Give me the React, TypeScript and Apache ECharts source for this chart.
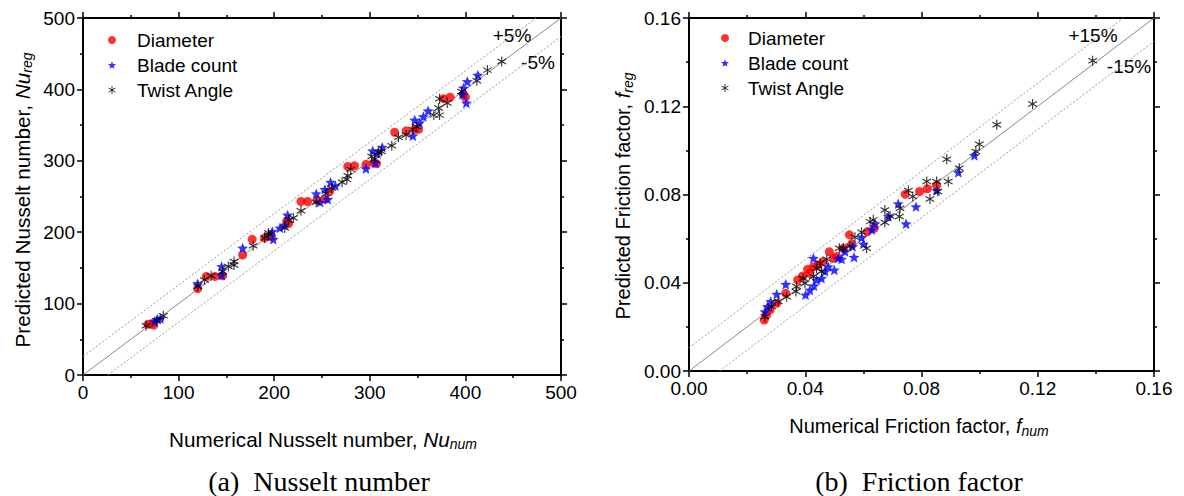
import React, { useEffect, useRef } from "react";
import * as echarts from "echarts";

// ---------- data ----------
const seriesNames = ["Diameter", "Blade count", "Twist Angle"];

// (a) Nusselt number: [numerical, predicted]
const nuDiameter = [
  [68, 71], [72, 72], [74, 70], [120, 121], [129, 138], [138, 138], [146, 139], [167, 168],
  [177, 190], [190, 192], [197, 194], [213, 215], [215, 212], [228, 243], [235, 243], [245, 245],
  [253, 246], [258, 257], [277, 292], [284, 293], [296, 295], [304, 297], [307, 296], [326, 340],
  [338, 342], [347, 344], [351, 344], [377, 387], [384, 389], [398, 393], [400, 389],
];
const nuBlade = [
  [75, 75], [78, 78], [81, 79], [120, 128], [145, 152], [145, 140], [167, 178], [199, 190],
  [198, 201], [206, 206], [214, 224], [211, 210], [244, 254], [248, 242], [253, 260], [256, 246],
  [259, 270], [264, 265], [296, 289], [303, 314], [306, 297], [308, 310], [313, 319], [345, 335],
  [347, 357], [352, 353], [356, 362], [361, 370], [397, 393], [398, 402], [402, 411], [401, 381],
  [413, 420],
];
const nuTwist = [
  [66, 69], [77, 76], [84, 83], [120, 124], [127, 133], [134, 139], [146, 145], [152, 152],
  [158, 159], [158, 154], [178, 181], [190, 192], [194, 196], [194, 199], [211, 206], [215, 217],
  [220, 220], [228, 230], [244, 242], [254, 254], [260, 262], [271, 270], [276, 274], [277, 279],
  [280, 288], [302, 306], [305, 302], [309, 312], [312, 313], [323, 321], [330, 333], [338, 336],
  [345, 344], [349, 348], [367, 364], [373, 364], [372, 374], [373, 387], [381, 381], [396, 397],
  [412, 412], [423, 427], [438, 439],
];
const nuParity = [[0, 0], [500, 500]];
const nuUpper = [[0, 26], [474, 500]];
const nuLower = [[26, 0], [500, 474]];

// (b) Friction factor: [numerical, predicted]
const fDiameter = [
  [0.0259, 0.0231], [0.0267, 0.0254], [0.0279, 0.0277], [0.0302, 0.0307], [0.0333, 0.0352],
  [0.0374, 0.0413], [0.0391, 0.0431], [0.0408, 0.0461], [0.0416, 0.0443], [0.0428, 0.0473],
  [0.0445, 0.0481], [0.0462, 0.0496], [0.0483, 0.0541], [0.0497, 0.0511], [0.0508, 0.0519],
  [0.0531, 0.0556], [0.0552, 0.0617], [0.056, 0.0576], [0.0614, 0.0632], [0.0637, 0.0647],
  [0.0744, 0.0801], [0.0793, 0.0814], [0.082, 0.0826], [0.0852, 0.0841],
];
const fBlade = [
  [0.0261, 0.0269], [0.027, 0.0292], [0.0281, 0.0315], [0.0302, 0.0348], [0.0333, 0.0393],
  [0.0401, 0.0345], [0.0416, 0.0367], [0.0428, 0.0511], [0.043, 0.0386], [0.0439, 0.0413],
  [0.0456, 0.042], [0.0468, 0.0451], [0.0479, 0.0473], [0.05, 0.0458], [0.0514, 0.0511],
  [0.0525, 0.0507], [0.0537, 0.0541], [0.0563, 0.0564], [0.0568, 0.0516], [0.0594, 0.0606],
  [0.06, 0.0576], [0.0629, 0.064], [0.064, 0.0667], [0.0686, 0.07], [0.072, 0.0758],
  [0.0747, 0.0667], [0.0781, 0.0745], [0.0852, 0.0818], [0.0927, 0.09], [0.0982, 0.0977],
];
const fTwist = [
  [0.0261, 0.0246], [0.0284, 0.0292], [0.0307, 0.0315], [0.0336, 0.0337], [0.0368, 0.036],
  [0.037, 0.0383], [0.0393, 0.042], [0.0399, 0.0398], [0.0428, 0.0428], [0.0439, 0.0466],
  [0.0456, 0.0451], [0.0451, 0.0488], [0.0474, 0.0507], [0.0517, 0.0556], [0.0531, 0.0556],
  [0.0554, 0.0567], [0.0571, 0.0606], [0.0594, 0.0629], [0.0611, 0.0556], [0.0623, 0.0677],
  [0.0634, 0.0685], [0.0674, 0.073], [0.0674, 0.0673], [0.0692, 0.0703], [0.0724, 0.07],
  [0.0726, 0.0738], [0.0755, 0.0818], [0.077, 0.0791], [0.0818, 0.0859], [0.0829, 0.078],
  [0.0852, 0.0859], [0.0856, 0.0814], [0.0887, 0.096], [0.0892, 0.0859], [0.093, 0.0919],
  [0.0987, 0.0995], [0.0999, 0.1028], [0.1059, 0.1116], [0.1182, 0.121], [0.1389, 0.1406],
];
const fParity = [[0, 0], [0.16, 0.16]];
const fUpper = [[0, 0.0105], [0.1495, 0.16]];
const fLower = [[0.0105, 0], [0.16, 0.1495]];

const nuTicks = { min: 0, max: 500, interval: 100 };
const fTicks = { min: 0, max: 0.16, interval: 0.04 };

// ---------- styling ----------
const SANS = "Liberation Sans";
const SERIF = "Liberation Serif";
const STAR =
  "path://M50 0 L62.93 32.2 L97.55 34.55 L70.92 56.8 L79.39 90.45 L50 72 L20.61 90.45 L29.08 56.8 L2.45 34.55 L37.07 32.2 Z";
const AST = "path://M50 0 L50 100 M6.7 25 L93.3 75 M6.7 75 L93.3 25";
const TICK_FONT = 19;
const SUB_FONT = 14;

const markerStyles = [
  { symbol: "circle", size: 9, itemStyle: { color: "#ff0000" } },
  { symbol: STAR, size: 11, itemStyle: { color: "#0000ff" } },
  { symbol: AST, size: 10, itemStyle: { color: "#000", borderColor: "#000", borderWidth: 1.1 } },
];
const legendIcons = [
  { icon: "circle", itemStyle: { color: "#ff0000" } },
  { icon: STAR, itemStyle: { color: "#0000ff" } },
  { icon: AST, itemStyle: { color: "#000", borderColor: "#000", borderWidth: 1 } },
];

function makeAxis(dim: "x" | "y", grid: number, ticks: any, main: boolean, fmt?: (v: number) => string) {
  return {
    type: "value",
    gridIndex: grid,
    min: ticks.min,
    max: ticks.max,
    interval: ticks.interval,
    position: dim === "x" ? (main ? "bottom" : "top") : main ? "left" : "right",
    axisLine: { show: true, onZero: false, lineStyle: { color: "#000", width: 2 } },
    axisTick: { show: true, inside: false, length: 6, lineStyle: { color: "#000", width: 1.5 } },
    minorTick: { show: true, splitNumber: 2, length: 3, lineStyle: { color: "#000", width: 1.5 } },
    splitLine: { show: false },
    minorSplitLine: { show: false },
    axisLabel: {
      show: main,
      color: "#000",
      fontSize: TICK_FONT,
      fontFamily: SANS,
      margin: 8,
      formatter: fmt,
    },
  };
}

function scatterSeries(data: number[][][], xi: number, yi: number) {
  return data.map((d, k) => ({
    type: "scatter",
    name: seriesNames[k],
    xAxisIndex: xi,
    yAxisIndex: yi,
    data: d,
    symbol: markerStyles[k].symbol,
    symbolSize: markerStyles[k].size,
    symbolKeepAspect: true,
    itemStyle: markerStyles[k].itemStyle,
    z: 5 + k,
  }));
}

function refLine(data: number[][], xi: number, yi: number, dotted: boolean) {
  return {
    type: "line",
    xAxisIndex: xi,
    yAxisIndex: yi,
    data,
    symbol: "none",
    silent: true,
    lineStyle: dotted
      ? { color: "#999", width: 1, type: [2, 2] }
      : { color: "#888", width: 1, type: "solid" },
    z: 2,
  };
}

let measureCtx: CanvasRenderingContext2D | null = null;
function measure(text: string, size: number, italic: boolean) {
  if (!measureCtx) measureCtx = document.createElement("canvas").getContext("2d");
  if (!measureCtx) return text.length * size * 0.5;
  measureCtx.font = `${italic ? "italic " : ""}${size}px "${SANS}"`;
  return measureCtx.measureText(text).width;
}

function axisTitle(
  normal: string,
  ital: string,
  sub: string,
  cx: number,
  cy: number,
  rotated: boolean,
  size: number
) {
  const w1 = measure(normal, size, false);
  const w2 = measure(ital, size, true);
  const w3 = measure(sub, SUB_FONT, true);
  const start = -(w1 + w2 + w3) / 2;
  const base = { fontFamily: SANS, fill: "#000", align: "left", verticalAlign: "middle" };
  return {
    type: "group",
    x: cx,
    y: cy,
    rotation: rotated ? Math.PI / 2 : 0,
    children: [
      { type: "text", x: start, y: 0, style: { ...base, text: normal, fontSize: size } },
      { type: "text", x: start + w1, y: 0, style: { ...base, text: ital, fontSize: size, fontStyle: "italic" } },
      { type: "text", x: start + w1 + w2, y: 5, style: { ...base, text: sub, fontSize: SUB_FONT, fontStyle: "italic" } },
    ],
  };
}

function plainText(text: string, x: number, y: number, size: number, family: string) {
  return {
    type: "text",
    x,
    y,
    style: { text, fontSize: size, fontFamily: family, fill: "#000", align: "center", verticalAlign: "middle" },
  };
}

export default function App() {
  const ref = useRef<HTMLDivElement>(null);
  useEffect(() => {
    if (!ref.current) return;
    const chart = echarts.init(ref.current, undefined, { renderer: "svg" });
    const f2 = (v: number) => v.toFixed(2);
    const legendCommon = {
      orient: "vertical",
      itemWidth: 8,
      itemHeight: 8,
      itemGap: 5,
      selectedMode: false,
      data: seriesNames.map((n, k) => ({ name: n, ...legendIcons[k] })),
    };
    chart.setOption({
      animation: false,
      backgroundColor: "#fff",
      grid: [
        { left: 83, top: 18, width: 478, height: 357 },
        { left: 689, top: 18, width: 465, height: 353 },
      ],
      xAxis: [
        makeAxis("x", 0, nuTicks, true),
        makeAxis("x", 0, nuTicks, false),
        makeAxis("x", 1, fTicks, true, f2),
        makeAxis("x", 1, fTicks, false, f2),
      ],
      yAxis: [
        makeAxis("y", 0, nuTicks, true),
        makeAxis("y", 0, nuTicks, false),
        makeAxis("y", 1, fTicks, true, f2),
        makeAxis("y", 1, fTicks, false, f2),
      ],
      legend: [
        {
          ...legendCommon,
          left: 103,
          top: 25,
          textStyle: { fontSize: 19, fontFamily: SANS, color: "#000", lineHeight: 20, padding: [0, 0, 0, 16] },
        },
        {
          ...legendCommon,
          left: 716,
          top: 23,
          textStyle: { fontSize: 19, fontFamily: SANS, color: "#000", lineHeight: 20, padding: [0, 0, 0, 14] },
        },
      ],
      series: [
        refLine(nuParity, 0, 0, false),
        refLine(nuUpper, 0, 0, true),
        refLine(nuLower, 0, 0, true),
        ...scatterSeries([nuDiameter, nuBlade, nuTwist], 0, 0),
        refLine(fParity, 2, 2, false),
        refLine(fUpper, 2, 2, true),
        refLine(fLower, 2, 2, true),
        ...scatterSeries([fDiameter, fBlade, fTwist], 2, 2),
      ],
      graphic: [
        axisTitle("Numerical Nusselt number, ", "Nu", "num", 323, 439, false, 20.7),
        axisTitle("Predicted Nusselt number, ", "Nu", "reg", 22, 200, true, 20.7),
        axisTitle("Numerical Friction factor, ", "f", "num", 919, 426, false, 20),
        axisTitle("Predicted Friction factor, ", "f", "reg", 623, 196, true, 20),
        plainText("+5%", 512, 35, 19, SANS),
        plainText("-5%", 538, 62, 19, SANS),
        plainText("+15%", 1093, 35, 19, SANS),
        plainText("-15%", 1129, 66, 19, SANS),
        plainText("(a)  Nusselt number", 319, 481, 28, SERIF),
        plainText("(b)  Friction factor", 919, 481, 28, SERIF),
      ],
    });
    return () => chart.dispose();
  }, []);
  return (
    <div
      ref={ref}
      style={{ position: "absolute", left: 0, top: 0, width: 1184, height: 496, background: "#fff" }}
    />
  );
}
